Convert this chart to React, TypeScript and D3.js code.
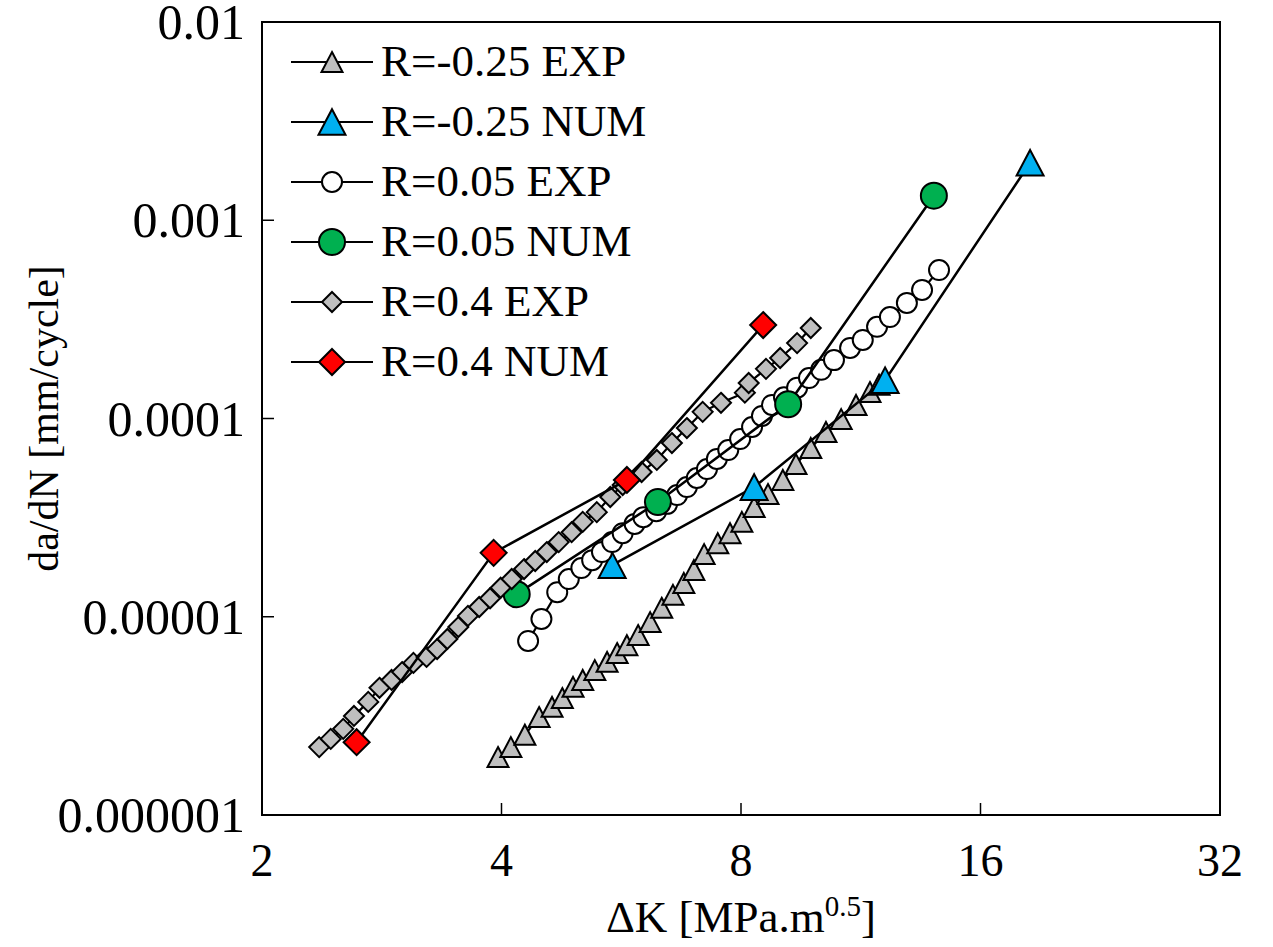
import React from 'react';
import * as d3 from 'd3';

// ---------- data ----------
const xTickValues = [2, 4, 8, 16, 32];
const xTickLabels = ['2', '4', '8', '16', '32'];
const yTickValues = [1e-6, 1e-5, 1e-4, 1e-3, 1e-2];
const yTickLabels = ['0.000001', '0.00001', '0.0001', '0.001', '0.01'];

const seriesNames = ['R=-0.25 EXP', 'R=-0.25 NUM', 'R=0.05 EXP', 'R=0.05 NUM', 'R=0.4 EXP', 'R=0.4 NUM'];

// R=-0.25 EXP
const dkM025Exp = [3.96, 4.11, 4.28, 4.46, 4.63, 4.77, 4.92, 5.06, 5.24, 5.43, 5.59, 5.75, 5.94, 6.15, 6.36, 6.57, 6.78, 6.98, 7.19, 7.48, 7.75, 8.02, 8.31, 8.65, 9.03, 9.38, 9.79, 10.23, 10.69, 11.16, 11.62, 11.93];
const rateM025Exp = [1.96e-6, 2.2e-6, 2.54e-6, 3.12e-6, 3.51e-6, 3.89e-6, 4.43e-6, 4.8e-6, 5.38e-6, 5.92e-6, 6.56e-6, 7.19e-6, 8.09e-6, 9.4e-6, 1.11e-5, 1.29e-5, 1.48e-5, 1.72e-5, 2.07e-5, 2.35e-5, 2.64e-5, 3.01e-5, 3.58e-5, 4.16e-5, 4.9e-5, 5.89e-5, 7.1e-5, 8.55e-5, 9.93e-5, 1.17e-4, 1.36e-4, 1.48e-4];
// R=-0.25 NUM
const dkM025Num = [5.51, 8.31, 12.14, 18.47];
const rateM025Num = [1.82e-5, 4.51e-5, 1.56e-4, 1.95e-3];
// R=0.05 EXP
const dk005Exp = [4.32, 4.49, 4.7, 4.86, 5.04, 5.2, 5.35, 5.51, 5.68, 5.88, 6.03, 6.26, 6.46, 6.65, 6.84, 7.04, 7.25, 7.46, 7.71, 7.98, 8.26, 8.5, 8.75, 9.06, 9.41, 9.74, 10.09, 10.47, 10.97, 11.38, 11.86, 12.31, 12.93, 13.51, 14.19];
const rate005Exp = [7.55e-6, 9.75e-6, 1.33e-5, 1.55e-5, 1.76e-5, 1.93e-5, 2.12e-5, 2.38e-5, 2.64e-5, 2.94e-5, 3.18e-5, 3.41e-5, 3.71e-5, 4.11e-5, 4.51e-5, 5.01e-5, 5.56e-5, 6.25e-5, 6.93e-5, 7.88e-5, 9.06e-5, 1.03e-4, 1.17e-4, 1.28e-4, 1.43e-4, 1.6e-4, 1.76e-4, 1.97e-4, 2.27e-4, 2.49e-4, 2.9e-4, 3.25e-4, 3.83e-4, 4.45e-4, 5.61e-4];
// R=0.05 NUM
const dk005Num = [4.18, 6.29, 9.17, 13.98];
const rate005Num = [1.3e-5, 3.79e-5, 1.18e-4, 1.33e-3];
// R=0.4 EXP
const dk04Exp = [2.36, 2.44, 2.53, 2.61, 2.72, 2.81, 2.91, 3.0, 3.1, 3.22, 3.32, 3.42, 3.53, 3.63, 3.75, 3.87, 3.99, 4.12, 4.27, 4.41, 4.56, 4.72, 4.9, 5.06, 5.27, 5.48, 5.68, 6.0, 6.27, 6.55, 6.84, 7.16, 7.55, 8.09, 8.18, 8.6, 8.96, 9.41, 9.79];
const rate04Exp = [2.2e-6, 2.42e-6, 2.72e-6, 3.16e-6, 3.72e-6, 4.38e-6, 4.8e-6, 5.26e-6, 5.85e-6, 6.27e-6, 6.87e-6, 7.73e-6, 8.87e-6, 1.01e-5, 1.12e-5, 1.24e-5, 1.4e-5, 1.55e-5, 1.74e-5, 1.91e-5, 2.12e-5, 2.38e-5, 2.67e-5, 3.01e-5, 3.37e-5, 4.02e-5, 4.62e-5, 5.37e-5, 6.18e-5, 7.52e-5, 8.95e-5, 1.08e-4, 1.2e-4, 1.35e-4, 1.51e-4, 1.78e-4, 2.02e-4, 2.4e-4, 2.86e-4];
// R=0.4 NUM
const dk04Num = [2.63, 3.91, 5.75, 8.53];
const rate04Num = [2.33e-6, 2.1e-5, 4.9e-5, 2.96e-4];

type Shape = 'triangle' | 'circle' | 'diamond';
interface Series { name: string; dk: number[]; rate: number[]; shape: Shape; fill: string; size: number; lineW: number; }

const series: Series[] = [
  { name: seriesNames[0], dk: dkM025Exp, rate: rateM025Exp, shape: 'triangle', fill: '#bfbfbf', size: 21, lineW: 2.2 },
  { name: seriesNames[1], dk: dkM025Num, rate: rateM025Num, shape: 'triangle', fill: '#00b0f0', size: 27, lineW: 2.5 },
  { name: seriesNames[2], dk: dk005Exp, rate: rate005Exp, shape: 'circle', fill: '#ffffff', size: 20, lineW: 2.2 },
  { name: seriesNames[3], dk: dk005Num, rate: rate005Num, shape: 'circle', fill: '#00b050', size: 26, lineW: 2.5 },
  { name: seriesNames[4], dk: dk04Exp, rate: rate04Exp, shape: 'diamond', fill: '#bfbfbf', size: 20, lineW: 2.2 },
  { name: seriesNames[5], dk: dk04Num, rate: rate04Num, shape: 'diamond', fill: '#ff0000', size: 26, lineW: 2.5 },
];

const W = 1273;
const H = 947;
const left = 262, right = 1220, top = 22, bottom = 815;
const FONT = '"Liberation Serif", "Times New Roman", serif';

function markerPath(shape: Shape, s: number): string {
  if (shape === 'circle') {
    const r = s / 2;
    return `M${-r},0A${r},${r} 0 1,0 ${r},0A${r},${r} 0 1,0 ${-r},0Z`;
  }
  if (shape === 'diamond') {
    const r = s / 2;
    return `M0,${-r}L${r},0L0,${r}L${-r},0Z`;
  }
  const h = s * 0.95;
  return `M0,${-h / 2}L${s / 2},${h / 2}L${-s / 2},${h / 2}Z`;
}

export default function App() {
  const x = d3.scaleLog().base(2).domain([2, 32]).range([left, right]);
  const y = d3.scaleLog().domain([1e-6, 1e-2]).range([bottom, top]);
  const line = d3.line<[number, number]>().x(d => x(d[0])).y(d => y(d[1]));

  const legendX0 = 291, legendX1 = 373, legendMarkX = 332, legendTextX = 381;
  const legendY0 = 62, legendDy = 60;

  return (
    <svg width={W} height={H} style={{ position: 'absolute', left: 0, top: 0, background: '#fff' }} fontFamily={FONT}>
      <rect x={0} y={0} width={W} height={H} fill="#fff" />
      {/* frame */}
      <rect x={left} y={top} width={right - left} height={bottom - top} fill="none" stroke="#000" strokeWidth={2} />
      {/* ticks */}
      {xTickValues.slice(1, -1).map(v => (
        <line key={'xt' + v} x1={x(v)} x2={x(v)} y1={bottom} y2={bottom - 12} stroke="#000" strokeWidth={1.5} />
      ))}
      {yTickValues.slice(1, -1).map(v => (
        <line key={'yt' + v} x1={left} x2={left + 12} y1={y(v)} y2={y(v)} stroke="#000" strokeWidth={1.5} />
      ))}
      {xTickValues.map((v, i) => (
        <text key={'xl' + v} x={x(v)} y={bottom + 61} textAnchor="middle" fontSize={46} fill="#000">{xTickLabels[i]}</text>
      ))}
      {yTickValues.map((v, i) => (
        <text key={'yl' + v} x={245} y={y(v) + 17} textAnchor="end" fontSize={50} fill="#000">{yTickLabels[i]}</text>
      ))}
      {/* axis titles */}
      <text x={(left + right) / 2} y={932} textAnchor="middle" fontSize={45} fill="#000">
        ΔK [MPa.m<tspan dy={-16} fontSize={29}>0.5</tspan><tspan dy={16}>]</tspan>
      </text>
      <text transform={`translate(58,${(top + bottom) / 2}) rotate(-90)`} textAnchor="middle" fontSize={42} fill="#000">da/dN [mm/cycle]</text>

      {/* series */}
      <g>
        {series.map((s, si) => {
          const pts = s.dk.map((k, i) => [k, s.rate[i]] as [number, number]);
          return (
            <g key={'s' + si}>
              <path d={line(pts) || ''} fill="none" stroke="#000" strokeWidth={s.lineW} />
              {pts.map((p, i) => (
                <path key={i} d={markerPath(s.shape, s.size)} transform={`translate(${x(p[0])},${y(p[1])})`} fill={s.fill} stroke="#000" strokeWidth={2} />
              ))}
            </g>
          );
        })}
      </g>

      {/* legend */}
      {series.map((s, i) => {
        const ly = legendY0 + i * legendDy;
        return (
          <g key={'lg' + i}>
            <line x1={legendX0} x2={legendX1} y1={ly} y2={ly} stroke="#000" strokeWidth={2.2} />
            <path d={markerPath(s.shape, s.size)} transform={`translate(${legendMarkX},${ly})`} fill={s.fill} stroke="#000" strokeWidth={2} />
            <text x={legendTextX} y={ly + 14} fontSize={45} fill="#000">{s.name}</text>
          </g>
        );
      })}
    </svg>
  );
}
